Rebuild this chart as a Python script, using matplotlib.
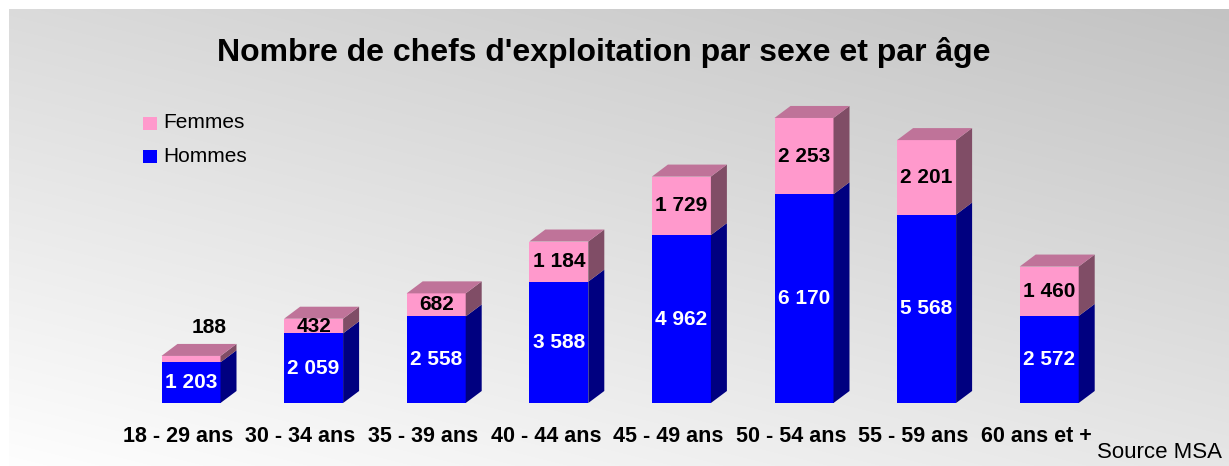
import numpy as np
import matplotlib
matplotlib.use("Agg")
import matplotlib.pyplot as plt
from matplotlib.patches import Polygon, Rectangle

categories = ["18 - 29 ans", "30 - 34 ans", "35 - 39 ans", "40 - 44 ans",
              "45 - 49 ans", "50 - 54 ans", "55 - 59 ans", "60 ans et +"]
hommes = [1203, 2059, 2558, 3588, 4962, 6170, 5568, 2572]
femmes = [188, 432, 682, 1184, 1729, 2253, 2201, 1460]

title = "Nombre de chefs d'exploitation par sexe et par âge"
source = "Source MSA"

plt.rcParams['font.family'] = ['Liberation Sans', 'DejaVu Sans']

W, H = 1229, 466
# layout in pixels (from top-left)
X0_PX = 191.0        # centre of first bar
STEP_PX = 122.6      # distance between bars
BASE_PX = 403.0      # baseline of bars
PX_PER_UNIT = 0.03384
BAR_W = 59 / STEP_PX
DX = 16 / STEP_PX
DY = 12 / PX_PER_UNIT

PINK, PINK_TOP, PINK_SIDE = "#FF99CC", "#BF7399", "#804D66"
BLUE, BLUE_TOP, BLUE_SIDE = "#0000FF", "#0000BF", "#000080"


def fmt(v):
    return "{:,}".format(v).replace(",", " ")


def ydata(py):
    return (BASE_PX - py) / PX_PER_UNIT


fig = plt.figure(figsize=(W / 100, H / 100), dpi=100)
fig.patch.set_facecolor("white")

# background gradient (light bottom-left -> darker top-right)
bw, bh = W - 9, H - 9
u = np.linspace(0, 1, bw)[None, :]
v = 1 - np.linspace(0, 1, bh)[:, None]
t = 0.4 * u + 0.6 * v
g = 0.995 - 0.23 * t
img = np.dstack([g, g, g])
fig.figimage(img, xo=9, yo=0, origin="upper", zorder=0)

ax = fig.add_axes([0, 0, 1, 1], zorder=2)
ax.patch.set_visible(False)
ax.set_xlim(-X0_PX / STEP_PX, (W - X0_PX) / STEP_PX)
ax.set_ylim(ydata(H), ydata(0))
ax.axis("off")

x = np.arange(len(categories))
totals = [h + f for h, f in zip(hommes, femmes)]

ax.bar(x, hommes, width=BAR_W, color=BLUE, linewidth=0, zorder=3)
ax.bar(x, femmes, width=BAR_W, bottom=hommes, color=PINK, linewidth=0, zorder=3)

for i in range(len(categories)):
    r = i + BAR_W / 2
    l = i - BAR_W / 2
    for b, top, col in [(0, hommes[i], BLUE_SIDE), (hommes[i], totals[i], PINK_SIDE)]:
        ax.add_patch(Polygon([(r, b), (r + DX, b + DY), (r + DX, top + DY), (r, top)],
                             closed=True, facecolor=col, edgecolor="none", zorder=3))
    T = totals[i]
    ax.add_patch(Polygon([(l, T), (l + DX, T + DY), (r + DX, T + DY), (r, T)],
                         closed=True, facecolor=PINK_TOP, edgecolor="none", zorder=3))

    ax.text(i, hommes[i] / 2, fmt(hommes[i]), ha="center", va="center",
            color="white", fontsize=15, fontweight="bold", zorder=4)
    if femmes[i] < 300:
        ax.text(i + 0.15, T + DY + 500, fmt(femmes[i]), ha="center", va="center",
                color="black", fontsize=15, fontweight="bold", zorder=4)
    else:
        ax.text(i, hommes[i] + femmes[i] / 2, fmt(femmes[i]), ha="center", va="center",
                color="black", fontsize=15, fontweight="bold", zorder=4)

    ax.text(i - 13 / STEP_PX, ydata(437), categories[i], ha="center", va="center",
            color="black", fontsize=15.5, fontweight="bold")

# title and source
fig.text(604 / W, 1 - 52 / H, title, ha="center", va="center",
         fontsize=23, fontweight="bold")
fig.text(1097 / W, 1 - 452 / H, source, ha="left", va="center", fontsize=16)

# legend
for py, col, lab in [(123, PINK, "Femmes"), (156, BLUE, "Hommes")]:
    fig.patches.append(Rectangle((143 / W, 1 - (py + 6.5) / H), 14 / W, 13 / H,
                                 transform=fig.transFigure, facecolor=col,
                                 edgecolor="none", zorder=3))
    fig.text(163 / W, 1 - py / H, lab, ha="left", va="center", fontsize=15)

plt.savefig("out.png", dpi=100)
